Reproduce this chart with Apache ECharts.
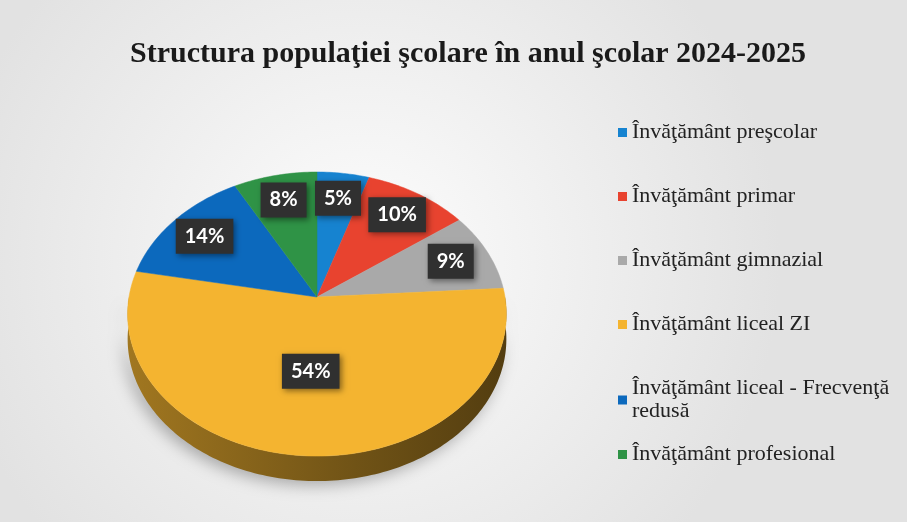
<!DOCTYPE html>
<html>
<head>
<meta charset="utf-8">
<title>Structura populaţiei şcolare</title>
<script src="https://cdn.jsdelivr.net/npm/echarts@6/dist/echarts.min.js"></script>
<style>
  html, body { margin: 0; padding: 0; background: #fff; }
  #chart { width: 907px; height: 522px; }
</style>
</head>
<body>
<div id="chart"></div>
<script>
const categories = [
  'Învăţământ preşcolar',
  'Învăţământ primar',
  'Învăţământ gimnazial',
  'Învăţământ liceal ZI',
  'Învăţământ liceal - Frecvenţă redusă',
  'Învăţământ profesional'
]
const shares = [5, 10, 9, 54, 14, 8]
const colors = ['#1683d0', '#e8432f', '#a9a9a9', '#f4b430', '#0c69bd', '#2f9346']

const total = shares.reduce((a, b) => a + b, 0)
const starts = []
let acc = 0
shares.forEach((v) => {
  starts.push(acc)
  acc += v
})

// tilted disc: centre, radii, perspective factor and side depth
const CX = 317
const CY = 297
const RX = 188
const RY = 140
const PERSP = 0.12
const DEPTH = 25

const project = (theta, f) => {
  const X = f * Math.sin(theta)
  const Z = f * Math.cos(theta)
  const w = 1 / (1 + PERSP * Z)
  return [CX + RX * X * w, CY - RY * Z * w]
}

const arc = (a0, a1) => {
  const pts = []
  const steps = Math.max(6, Math.ceil((a1 - a0) / 0.02))
  for (let i = 0; i <= steps; i++) {
    pts.push(project(a0 + ((a1 - a0) * i) / steps, 1))
  }
  return pts
}

// darker shade of a hex colour, k in 0..1
const shade = (hex, k) => {
  const n = parseInt(hex.slice(1), 16)
  const r = Math.round(((n >> 16) & 255) * k)
  const g = Math.round(((n >> 8) & 255) * k)
  const b = Math.round((n & 255) * k)
  return 'rgb(' + r + ',' + g + ',' + b + ')'
}

const buildSlice = (value, start, color) => {
  const a0 = (start / total) * Math.PI * 2
  const a1 = ((start + value) / total) * Math.PI * 2
  const children = []

  // side wall, only the front half is visible
  const w0 = Math.max(a0, Math.PI / 2)
  const w1 = Math.min(a1, (Math.PI * 3) / 2)
  if (w1 > w0) {
    const upper = arc(w0, w1)
    const lower = upper.map((p) => [p[0], p[1] + DEPTH]).reverse()
    children.push({
      type: 'polygon',
      z2: 1,
      shape: { points: upper.concat(lower) },
      style: {
        fill: new echarts.graphic.LinearGradient(0, 0, 1, 0, [
          { offset: 0, color: shade(color, 0.66) },
          { offset: 0.6, color: shade(color, 0.46) },
          { offset: 1, color: shade(color, 0.34) }
        ]),
        shadowBlur: 16,
        shadowColor: 'rgba(0,0,0,0.3)',
        shadowOffsetX: -4,
        shadowOffsetY: 4
      }
    })
  }

  // top face
  children.push({
    type: 'polygon',
    z2: 2,
    shape: { points: [[CX, CY]].concat(arc(a0, a1)) },
    style: { fill: color, stroke: color, lineWidth: 0.5 }
  })

  // dark label box
  const mid = (a0 + a1) / 2
  const f = value / total > 0.25 ? 0.5 : 0.78
  const lp = project(mid, f)
  children.push({
    type: 'text',
    z2: 10,
    style: {
      text: Math.round((value / total) * 100) + '%',
      x: lp[0],
      y: lp[1],
      align: 'center',
      verticalAlign: 'middle',
      fill: '#fff',
      font: 'bold 20px Lato',
      backgroundColor: '#303030',
      padding: [8, 9, 7, 9],
      shadowBlur: 6,
      shadowColor: 'rgba(0,0,0,0.45)',
      shadowOffsetX: 2,
      shadowOffsetY: 2
    }
  })

  return { type: 'group', children }
}

// long legend names go on two lines, breaking before the last word
const wrapName = (name) => {
  if (name.length <= 30) return name
  const cut = name.lastIndexOf(' ')
  return name.slice(0, cut) + '\n' + name.slice(cut + 1)
}

const legendText = {
  fontFamily: 'Liberation Serif',
  fontSize: 22,
  color: '#222',
  lineHeight: 23
}

const chart = echarts.init(document.getElementById('chart'))

const option = {
  backgroundColor: new echarts.graphic.RadialGradient(0.4, 0.5, 0.8, [
    { offset: 0, color: '#fdfdfd' },
    { offset: 1, color: '#e2e2e2' }
  ]),
  animation: false,
  title: {
    text: 'Structura populaţiei şcolare în anul şcolar 2024-2025',
    left: 125,
    top: 34,
    textStyle: {
      fontFamily: 'Liberation Serif',
      fontWeight: 'bold',
      fontSize: 30,
      color: '#1a1a1a'
    }
  },
  legend: [
    {
      orient: 'vertical',
      left: 613,
      top: 116,
      icon: 'rect',
      itemWidth: 9,
      itemHeight: 9,
      itemGap: 41,
      data: categories.slice(0, 5),
      formatter: wrapName,
      textStyle: legendText
    },
    {
      orient: 'vertical',
      left: 613,
      top: 438,
      icon: 'rect',
      itemWidth: 9,
      itemHeight: 9,
      data: categories.slice(5),
      formatter: wrapName,
      textStyle: legendText
    }
  ],
  series: categories.map((name, i) => ({
    name,
    type: 'custom',
    coordinateSystem: 'none',
    itemStyle: { color: colors[i] },
    data: [[shares[i], starts[i]]],
    renderItem: (params, api) => buildSlice(api.value(0), api.value(1), colors[i])
  }))
}

chart.setOption(option)
</script>
</body>
</html>
